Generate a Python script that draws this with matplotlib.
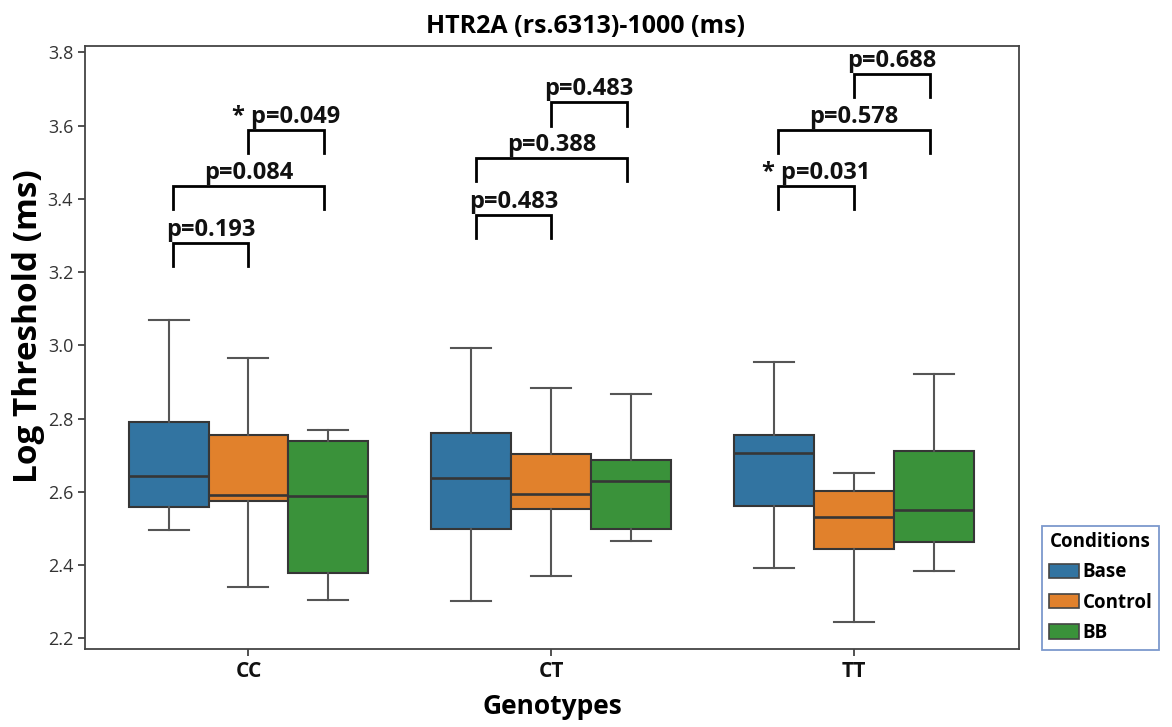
import matplotlib
matplotlib.use("Agg")
import matplotlib.pyplot as plt
from matplotlib.patches import Patch

# ---------------- data ----------------
genotypes = ["CC", "CT", "TT"]
conditions = ["Base", "Control", "BB"]
colors = ["#3274A1", "#E1812C", "#3A923A"]

# statistics per condition (rows) and genotype (columns)
whisker_low = [[2.495, 2.301, 2.393],
               [2.341, 2.370, 2.244],
               [2.306, 2.466, 2.384]]
q1 = [[2.558, 2.499, 2.561],
      [2.574, 2.553, 2.445],
      [2.378, 2.499, 2.463]]
median = [[2.642, 2.637, 2.706],
          [2.592, 2.594, 2.532],
          [2.589, 2.629, 2.550]]
q3 = [[2.790, 2.760, 2.755],
      [2.754, 2.703, 2.603],
      [2.739, 2.686, 2.712]]
whisker_high = [[3.068, 2.992, 2.954],
                [2.964, 2.884, 2.651],
                [2.769, 2.868, 2.923]]

# significance annotations
ann_genotype = [0, 0, 0, 1, 1, 1, 2, 2, 2]
ann_left = [0, 0, 1, 0, 0, 1, 0, 0, 1]
ann_right = [1, 2, 2, 1, 2, 2, 1, 2, 2]
ann_label = ["p=0.193", "p=0.084", "* p=0.049",
             "p=0.483", "p=0.388", "p=0.483",
             "* p=0.031", "p=0.578", "p=0.688"]
ann_level = [3.280, 3.436, 3.588, 3.357, 3.512, 3.664, 3.435, 3.589, 3.741]

title = "HTR2A (rs.6313)-1000 (ms)"
xlabel = "Genotypes"
ylabel = "Log Threshold (ms)"
legend_title = "Conditions"

# ---------------- plot ----------------
FONT = ["Open Sans", "DejaVu Sans"]
plt.rcParams["font.family"] = FONT

fig = plt.figure(figsize=(11.72, 7.27), dpi=100)
ax = fig.add_axes([0.0725, 0.1073, 0.797, 0.8294])

box_w = 0.264
offsets = [-box_w, 0.0, box_w]
edge = "#363636"
wcol = "#555555"

for ci, cond in enumerate(conditions):
    stats = []
    for gi in range(len(genotypes)):
        stats.append(dict(med=median[ci][gi], q1=q1[ci][gi], q3=q3[ci][gi],
                          whislo=whisker_low[ci][gi], whishi=whisker_high[ci][gi],
                          fliers=[]))
    pos = [gi + offsets[ci] for gi in range(len(genotypes))]
    ax.bxp(stats, positions=pos, widths=box_w, patch_artist=True,
           showfliers=False, capwidths=box_w * 0.5, manage_ticks=False,
           boxprops=dict(facecolor=colors[ci], edgecolor=edge, linewidth=1.5),
           medianprops=dict(color=edge, linewidth=1.9),
           whiskerprops=dict(color=wcol, linewidth=1.5),
           capprops=dict(color=wcol, linewidth=1.5))

# brackets
leg_h = 0.064
br_off = [-0.25, 0.0, 0.25]
for g, l, r, lab, lev in zip(ann_genotype, ann_left, ann_right, ann_label, ann_level):
    x1 = g + br_off[l]
    x2 = g + br_off[r]
    ax.plot([x1, x1, x2, x2], [lev - leg_h, lev, lev, lev - leg_h],
            color="black", lw=2.0, solid_joinstyle="miter")
    ax.text((x1 + x2) / 2, lev + 0.002, lab, ha="center", va="bottom",
            fontsize=17, fontweight="bold", color="#111111")

ax.set_xlim(-0.54, 2.545)
ax.set_ylim(2.171, 3.817)
ax.set_yticks([2.2, 2.4, 2.6, 2.8, 3.0, 3.2, 3.4, 3.6, 3.8])
ax.set_yticklabels(["2.2", "2.4", "2.6", "2.8", "3.0", "3.2", "3.4", "3.6", "3.8"],
                   fontsize=13, color="#333333")
ax.set_xticks(range(len(genotypes)))
ax.set_xticklabels(genotypes, fontsize=15, fontweight="bold", color="#111111")
ax.tick_params(axis="both", direction="out", length=5, width=1.2, color="#333333")

for s in ax.spines.values():
    s.set_color("#444444")
    s.set_linewidth(1.3)

ax.set_xlabel(xlabel, fontsize=19, fontweight="bold", labelpad=8)
ax.set_ylabel(ylabel, fontsize=24, fontweight="bold")
ax.yaxis.set_label_coords(-0.043, 0.535)
fig.text(0.5, 0.963, title, ha="center", va="center", fontsize=18, fontweight="bold")

handles = [Patch(facecolor=colors[i], edgecolor="#444444", linewidth=1.2, label=conditions[i])
           for i in range(len(conditions))]
leg = ax.legend(handles=handles, title=legend_title, loc="lower left",
                bbox_to_anchor=(1.025, -0.001), frameon=True, fancybox=False,
                prop=dict(weight="bold", size=13.5), handlelength=1.6, handleheight=0.8,
                handletextpad=0.2, labelspacing=0.55, borderpad=0.35, borderaxespad=0.0)
leg.get_title().set_fontweight("bold")
leg.get_title().set_fontsize(13.5)
leg.get_frame().set_edgecolor("#5b7fc0")
leg.get_frame().set_linewidth(1.3)

fig.savefig("out.png", dpi=100)
